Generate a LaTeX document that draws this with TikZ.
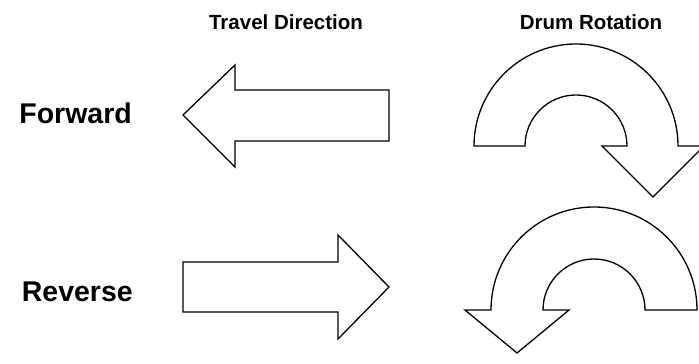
\documentclass[tikz,border=0pt]{standalone}
\usepackage{fontspec}
\setmainfont{Liberation Sans}
\begin{document}
\begin{tikzpicture}[x=1pt,y=1pt,
  shp/.style={draw=black,line width=1.3pt,line join=miter,fill=white},
  head/.style={font=\bfseries\fontsize{20.5}{24}\selectfont,inner sep=0pt},
  lab/.style={font=\bfseries\fontsize{28.5}{33}\selectfont,inner sep=0pt,anchor=east}]
\useasboundingbox (0,0) rectangle (699,364);
\clip (0,0) rectangle (699,364);
% headings
\node[head] (travel) at (286,342) {Travel Direction};
\node[head] (drum) at (591,342) {Drum Rotation};
% row labels
\node[lab] (fwd) at (132,251) {Forward};
\node[lab] (rev) at (133,72) {Reverse};
% forward travel arrow (left)
\draw[shp] (183,249) -- (235,299) -- (235,274) -- (389,274) -- (389,223)
  -- (235,223) -- (235,197) -- cycle;
% reverse travel arrow (right)
\draw[shp] (389,77) -- (338,129) -- (338,102) -- (183,102) -- (183,52)
  -- (338,52) -- (338,25) -- cycle;
% forward drum rotation (clockwise)
\draw[shp] (474,218) arc[start angle=180,end angle=0,radius=102]
  -- (704,218) -- (653,167) -- (602,218) -- (627,218)
  arc[start angle=0,end angle=180,radius=51] -- cycle;
% reverse drum rotation (counter-clockwise)
\draw[shp] (697,54) arc[start angle=0,end angle=180,radius=103]
  -- (465,54) -- (517,11) -- (569,54) -- (543,54)
  arc[start angle=180,end angle=0,radius=51] -- cycle;
\end{tikzpicture}
\end{document}
